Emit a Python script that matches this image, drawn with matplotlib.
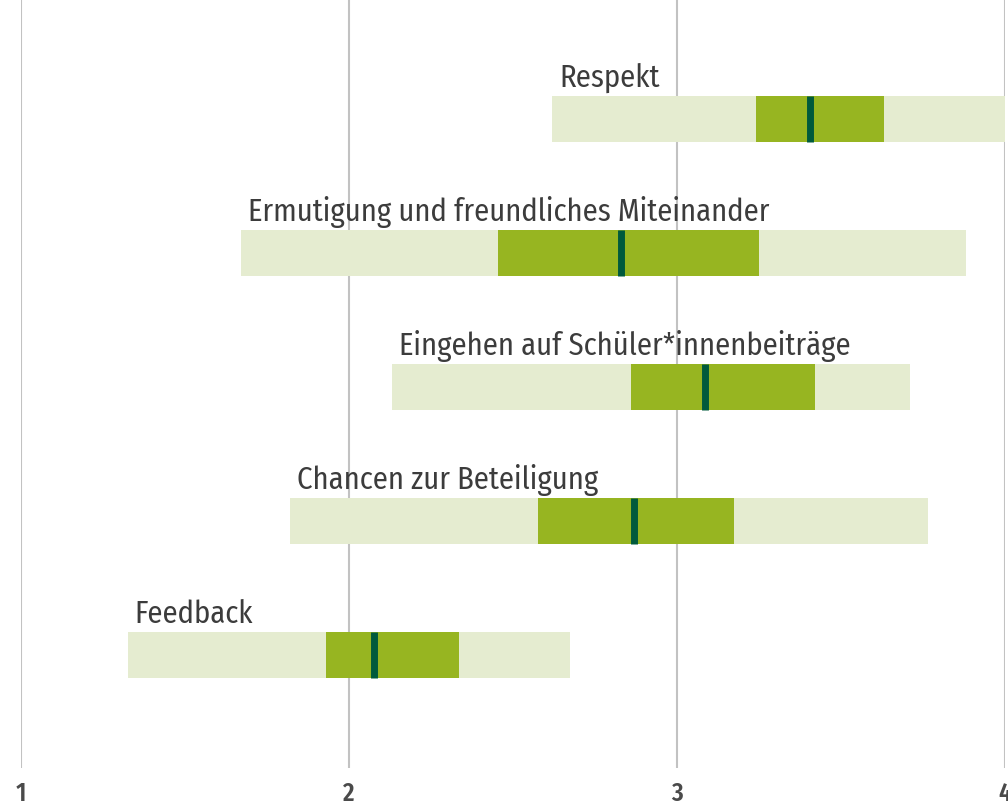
import matplotlib.pyplot as plt

# data (scale 1..4)
labels = ["Respekt", "Ermutigung und freundliches Miteinander",
          "Eingehen auf Schüler*innenbeiträge", "Chancen zur Beteiligung", "Feedback"]
low = [2.62, 1.67, 2.13, 1.82, 1.325]
q1 = [3.24, 2.455, 2.86, 2.575, 1.93]
median = [3.405, 2.83, 3.085, 2.87, 2.075]
q3 = [3.63, 3.25, 3.42, 3.175, 2.335]
high = [4.0, 3.88, 3.71, 3.765, 2.675]
ticks = [1, 2, 3, 4]

plt.rcParams['font.family'] = ['Fira Sans Condensed', 'DejaVu Sans']

light = '#e5ecd0'
mid = '#97b521'
dark = '#005a3c'
txt = '#3c3c3c'

fig = plt.figure(figsize=(10.08, 8.07), dpi=100)
ax = fig.add_axes([21 / 1008, 39 / 807, 984 / 1008, 768 / 807])

h = 0.343
for i in range(len(labels)):
    ax.barh(i, high[i] - low[i], left=low[i], height=h, color=light, zorder=2)
    ax.barh(i, q3[i] - q1[i], left=q1[i], height=h, color=mid, zorder=3)
    ax.plot([median[i], median[i]], [i - h / 2, i + h / 2], color=dark, lw=5, zorder=4,
            solid_capstyle='butt')
    ax.text(low[i] + 0.022, i - h / 2 - 0.067, labels[i], fontsize=22, color=txt,
            va='baseline', ha='left', zorder=5)

for t in ticks:
    ax.axvline(t, color='#c2c2c2', lw=1.5, zorder=1)

ax.set_xlim(1, 4)
ax.set_ylim(4.843, -0.888)
ax.set_xticks(ticks)
ax.set_xticklabels([str(t) for t in ticks], fontsize=18, fontweight='semibold', color='#4a4a4a')
ax.tick_params(axis='x', length=0, pad=10)
ax.set_yticks([])
for s in ax.spines.values():
    s.set_visible(False)

fig.savefig('out.png', dpi=100)
